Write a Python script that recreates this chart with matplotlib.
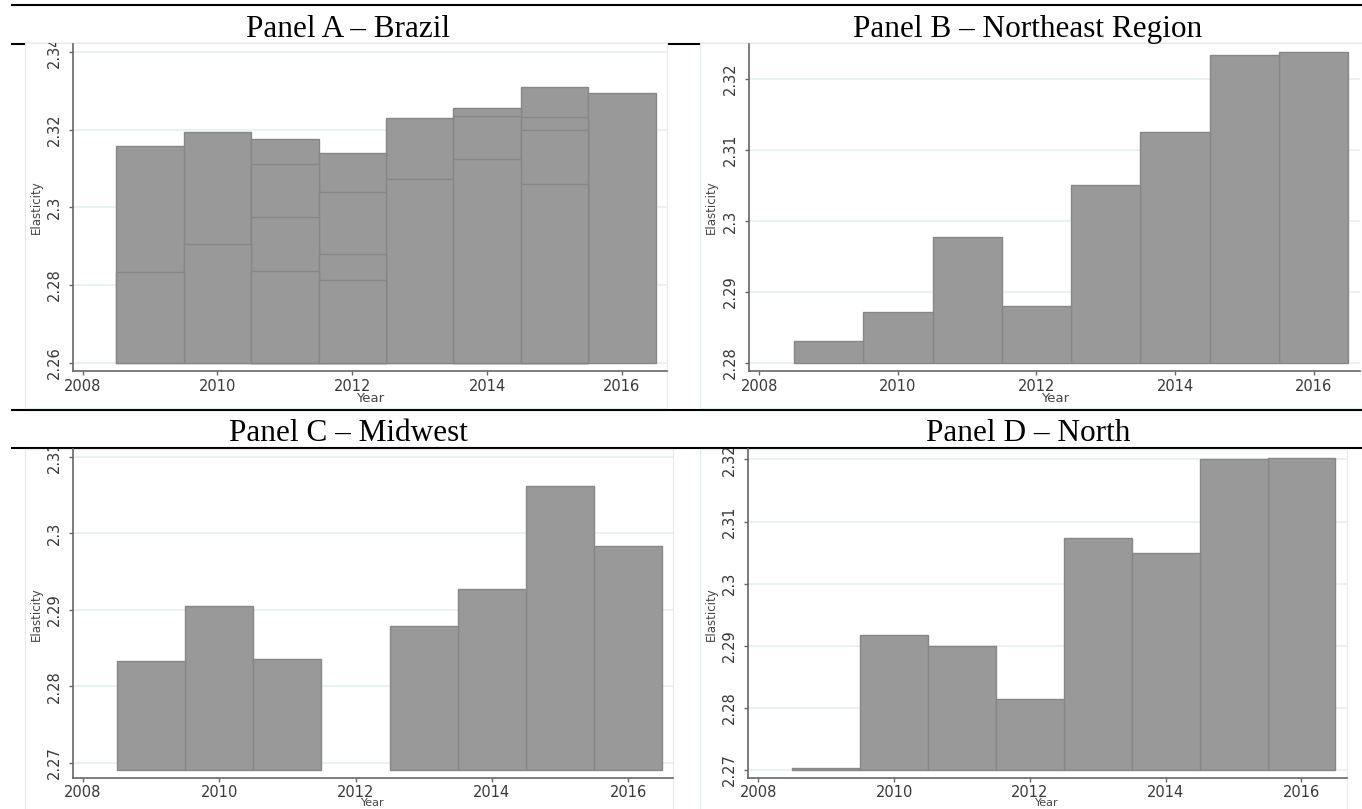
import matplotlib
matplotlib.use("Agg")
import matplotlib.pyplot as plt
from matplotlib.patches import Rectangle
from matplotlib.transforms import Bbox, TransformedBbox

W, H = 1362, 809

years = [2009, 2010, 2011, 2012, 2013, 2014, 2015, 2016]
x_ticks = [2008, 2010, 2012, 2014, 2016]

# Panel A: several observations per year, drawn on top of each other
years_a = [2009, 2009, 2010, 2010, 2011, 2011, 2011, 2011,
           2012, 2012, 2012, 2012, 2013, 2013, 2014, 2014, 2014,
           2015, 2015, 2015, 2015, 2016]
values_a = [2.3157, 2.2833, 2.3194, 2.2905, 2.3177, 2.3111, 2.2976, 2.2836,
            2.3141, 2.3039, 2.2879, 2.2814, 2.3230, 2.3072, 2.3257, 2.3235, 2.3126,
            2.3311, 2.3232, 2.3200, 2.3061, 2.3295]
values_b = [2.2831, 2.2872, 2.2977, 2.2880, 2.3051, 2.3126, 2.3234, 2.3238]
years_c = [2009, 2010, 2011, 2013, 2014, 2015, 2016]
values_c = [2.2833, 2.2905, 2.2836, 2.2879, 2.2927, 2.3061, 2.2983]
values_d = [2.2703, 2.2917, 2.2900, 2.2814, 2.3073, 2.3050, 2.3200, 2.3203]

yticks_a = [2.26, 2.28, 2.30, 2.32, 2.34]
ylabels_a = ["2.26", "2.28", "2.3", "2.32", "2.34"]
yticks_b = [2.28, 2.29, 2.30, 2.31, 2.32]
ylabels_b = ["2.28", "2.29", "2.3", "2.31", "2.32"]
yticks_c = [2.27, 2.28, 2.29, 2.30, 2.31]
ylabels_c = ["2.27", "2.28", "2.29", "2.3", "2.31"]
yticks_d = [2.27, 2.28, 2.29, 2.30, 2.31, 2.32]
ylabels_d = ["2.27", "2.28", "2.29", "2.3", "2.31", "2.32"]

titles = ["Panel A \u2013 Brazil", "Panel B \u2013 Northeast Region",
          "Panel C \u2013 Midwest", "Panel D \u2013 North"]

BAR = "#999999"
EDGE = "#878787"
GRID = "#e9f1f2"
AXC = "#666666"
TXT = "#383838"


def frac(x0, y0, x1, y1):
    return [x0 / W, 1 - y1 / H, (x1 - x0) / W, (y1 - y0) / H]


fig = plt.figure(figsize=(W / 100, H / 100), dpi=100)
bg = fig.add_axes([0, 0, 1, 1], zorder=0)
bg.set_xlim(0, W)
bg.set_ylim(H, 0)
bg.axis("off")

# document rules
for y in [5, 44, 410, 448]:
    bg.plot([11, W], [y, y], color="black", lw=1.5, solid_capstyle="butt", zorder=1)

# chart image frames (x0, y0, x1, y1)
frames = [(25, 43, 667, 408), (700, 43, 1362, 408),
          (25, 449, 673, 812), (700, 449, 1347, 812)]
for x0, y0, x1, y1 in frames:
    bg.add_patch(Rectangle((x0, y0), x1 - x0, y1 - y0, facecolor="white",
                           edgecolor="#e2ebed", lw=0.8, zorder=2))

# panel titles
for (cx, cy), t in zip([(348, 37), (1028, 37), (348, 441), (1028, 441)], titles):
    bg.text(cx, cy, t, ha="center", va="baseline", fontsize=22.5,
            family="Liberation Serif", color="black", zorder=3)


def panel(rect_px, xlim, ylim, yticks, ylabels, frame, base, xs, vals, bottom_row=False):
    ax = fig.add_axes(frac(*rect_px), zorder=1)
    ax.patch.set_alpha(0)
    # tallest first so shorter overlapping bars leave their top edge visible
    order = sorted(range(len(vals)), key=lambda i: -vals[i])
    for i in order:
        ax.bar(xs[i], vals[i] - base, bottom=base, width=1.0, color=BAR,
               edgecolor=EDGE, linewidth=1.0, zorder=2)
    ax.set_xlim(*xlim)
    ax.set_ylim(*ylim)
    ax.set_xticks(x_ticks)
    ax.set_xticklabels([str(v) for v in x_ticks])
    ax.set_yticks(yticks)
    ax.set_yticklabels(ylabels, rotation=90, va="center")
    ax.grid(axis="y", color=GRID, lw=1.4, zorder=0)
    ax.set_axisbelow(True)
    for s in ["top", "right"]:
        ax.spines[s].set_visible(False)
    for s in ["left", "bottom"]:
        ax.spines[s].set_color(AXC)
        ax.spines[s].set_linewidth(1.2)
    ax.tick_params(axis="x", length=3, width=1, color=AXC, labelsize=10.5,
                   labelcolor=TXT, pad=1.5 if bottom_row else 3)
    ax.tick_params(axis="y", length=3, width=1, color=AXC, labelsize=10.5,
                   labelcolor=TXT, pad=5)
    fx0, fy0, fx1, fy1 = frame
    clip = TransformedBbox(Bbox.from_extents(fx0 / W, 1 - fy1 / H, fx1 / W, 1 - fy0 / H),
                           fig.transFigure)
    for tk in ax.yaxis.get_major_ticks():
        tk.label1.set_clip_on(True)
        tk.label1.set_clip_box(clip)
    x0, y0, x1, y1 = rect_px
    fig.text(fx0 / W + 11 / W, 1 - (y0 + y1) / 2 / H, "Elasticity", rotation=90,
             ha="center", va="center", fontsize=8.5, color="#444444")
    if bottom_row:
        fig.text((x0 + x1) / 2 / W, 1 / H, "Year", ha="center",
                 va="bottom", fontsize=8, color="#444444")
    else:
        fig.text((x0 + x1) / 2 / W, 1 - (y1 + 27.5) / H, "Year", ha="center",
                 va="center", fontsize=9.5, color="#444444")
    return ax


panel((72.7, 44, 666.7, 370.7), (2007.852, 2016.665), (2.25794, 2.3421),
      yticks_a, ylabels_a, frames[0], 2.26, years_a, values_a)
panel((749.3, 44, 1360, 370.7), (2007.856, 2016.668), (2.27887, 2.32495),
      yticks_b, ylabels_b, frames[1], 2.28, years, values_b)
panel((72.7, 449, 672.7, 778.3), (2007.853, 2016.651), (2.26797, 2.3110),
      yticks_c, ylabels_c, frames[2], 2.269, years_c, values_c, bottom_row=True)
panel((747.7, 449, 1346.7, 778.3), (2007.844, 2016.666), (2.26867, 2.32168),
      yticks_d, ylabels_d, frames[3], 2.27, years, values_d, bottom_row=True)

fig.savefig("out.png", dpi=100)
